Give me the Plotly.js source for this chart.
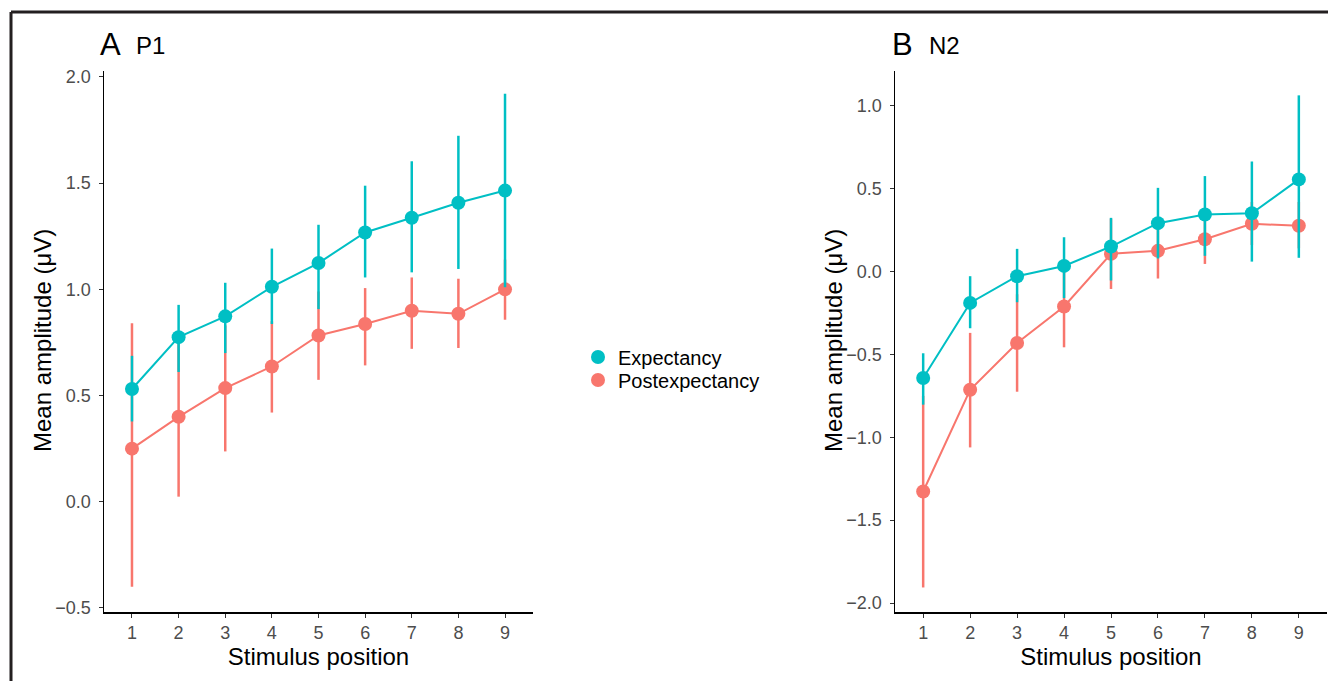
<!DOCTYPE html>
<html>
<head>
<meta charset="utf-8">
<script src="https://cdn.plot.ly/plotly-3.0.1.min.js"></script>
<style>html,body{margin:0;padding:0;background:#fff;}#chart{width:1328px;height:681px;}</style>
</head>
<body>
<div id="chart"></div>
<script>
// Stimulus positions
const positions = [1, 2, 3, 4, 5, 6, 7, 8, 9];

// Panel A: P1 — Expectancy
const p1ExpMean  = [0.531, 0.775, 0.873, 1.012, 1.124, 1.268, 1.337, 1.408, 1.465];
const p1ExpUpper = [0.687, 0.927, 1.031, 1.192, 1.304, 1.488, 1.603, 1.723, 1.921];
const p1ExpLower = [0.378, 0.611, 0.700, 0.837, 0.907, 1.056, 1.080, 1.096, 1.010];
// Panel A: P1 — Postexpectancy
const p1PostMean  = [0.250, 0.400, 0.535, 0.637, 0.783, 0.837, 0.899, 0.885, 1.000];
const p1PostUpper = [0.840, 0.770, 0.830, 0.850, 0.990, 1.006, 1.056, 1.050, 1.140];
const p1PostLower = [-0.400, 0.024, 0.237, 0.420, 0.574, 0.642, 0.720, 0.724, 0.857];

// Panel B: N2 — Expectancy
const n2ExpMean  = [-0.642, -0.189, -0.028, 0.034, 0.151, 0.292, 0.344, 0.352, 0.556];
const n2ExpUpper = [-0.493, -0.028, 0.137, 0.207, 0.324, 0.505, 0.576, 0.664, 1.063];
const n2ExpLower = [-0.803, -0.342, -0.185, -0.160, -0.054, 0.079, 0.095, 0.060, 0.083];
// Panel B: N2 — Postexpectancy
const n2PostMean  = [-1.327, -0.713, -0.431, -0.211, 0.107, 0.125, 0.195, 0.288, 0.276];
const n2PostUpper = [-0.750, -0.370, -0.137, 0.035, 0.319, 0.292, 0.350, 0.420, 0.420];
const n2PostLower = [-1.906, -1.061, -0.725, -0.457, -0.105, -0.042, 0.046, 0.160, 0.140];

// Labels
const seriesNames = ['Expectancy', 'Postexpectancy'];
const panelLetters = ['A', 'B'];
const panelNames = ['P1', 'N2'];
const xTitle = 'Stimulus position';
const yTitle = 'Mean amplitude (μV)';
const p1Ticks = [-0.5, 0, 0.5, 1.0, 1.5, 2.0];
const n2Ticks = [-2.0, -1.5, -1.0, -0.5, 0, 0.5, 1.0];

const TEAL = '#00BFC4', RED = '#F8766D';
const FONT = 'Liberation Sans, Arial, sans-serif';

function diffUp(m, u) { return m.map((v, i) => u[i] - v); }
function diffDn(m, l) { return m.map((v, i) => v - l[i]); }

function makeTraces(mean, up, lo, color, name, xa, ya, showLegend, legendId) {
  return [
    { x: positions, y: mean, type: 'scatter', mode: 'lines', xaxis: xa, yaxis: ya,
      line: { color: color, width: 2 }, showlegend: false, hoverinfo: 'skip' },
    { x: positions, y: mean, type: 'scatter', mode: 'markers', xaxis: xa, yaxis: ya,
      name: name, legendgroup: name, showlegend: showLegend, legend: legendId,
      marker: { color: color, size: 14 },
      error_y: { type: 'data', symmetric: false, array: diffUp(mean, up), arrayminus: diffDn(mean, lo),
                 color: color, thickness: 2.5, width: 0 } }
  ];
}

const data = [].concat(
  makeTraces(p1PostMean, p1PostUpper, p1PostLower, RED, seriesNames[1], 'x', 'y', true, 'legend2'),
  makeTraces(p1ExpMean, p1ExpUpper, p1ExpLower, TEAL, seriesNames[0], 'x', 'y', true, 'legend'),
  makeTraces(n2PostMean, n2PostUpper, n2PostLower, RED, seriesNames[1], 'x2', 'y2', false, 'legend2'),
  makeTraces(n2ExpMean, n2ExpUpper, n2ExpLower, TEAL, seriesNames[0], 'x2', 'y2', false, 'legend')
);

const W = 1328, H = 681;
const yDom = [1 - 612 / H, 1 - 71 / H];

function xAxis(domain, anchor) {
  return {
    domain: domain, anchor: anchor, range: [0.4, 9.6], tickvals: positions,
    showgrid: false, zeroline: false, showline: true, linecolor: '#000', linewidth: 1.5,
    ticks: 'outside', ticklen: 4, tickwidth: 1, tickcolor: '#333',
    tickfont: { family: FONT, size: 18, color: '#4D4D4D' },
    title: { text: xTitle, font: { family: FONT, size: 24, color: '#000' }, standoff: 6 },
    fixedrange: true
  };
}
function yAxis(range, ticks, anchor) {
  return {
    domain: yDom, anchor: anchor, range: range, tickvals: ticks, tickformat: '.1f',
    showgrid: false, zeroline: false, showline: true, linecolor: '#000', linewidth: 1.5,
    ticks: 'outside', ticklen: 4, tickwidth: 1, tickcolor: '#333', ticklabelstandoff: 4,
    tickfont: { family: FONT, size: 18, color: '#4D4D4D' },
    fixedrange: true
  };
}

const legendBase = {
  xanchor: 'left', yanchor: 'middle',
  font: { family: FONT, size: 20, color: '#000' }, bgcolor: 'rgba(0,0,0,0)', itemwidth: 30
};

function yTitleAnn(px) {
  return { text: yTitle, x: px / W, y: 1 - 341 / H, xref: 'paper', yref: 'paper',
    xanchor: 'center', yanchor: 'middle', textangle: -90, showarrow: false,
    font: { family: FONT, size: 24, color: '#000' } };
}

const layout = {
  width: W, height: H,
  margin: { l: 0, r: 0, t: 0, b: 0 },
  paper_bgcolor: '#fff', plot_bgcolor: '#fff',
  font: { family: FONT },
  xaxis: xAxis([104 / W, 533 / W], 'y'),
  yaxis: yAxis([-0.519, 2.028], p1Ticks, 'x'),
  xaxis2: xAxis([895 / W, 1327 / W], 'y2'),
  yaxis2: yAxis([-2.054, 1.21], n2Ticks, 'x2'),
  showlegend: true,
  legend: Object.assign({}, legendBase, { x: 578 / W, y: 1 - 357 / H }),
  legend2: Object.assign({}, legendBase, { x: 578 / W, y: 1 - 380 / H }),
  annotations: [
    yTitleAnn(42), yTitleAnn(833),
    { text: panelLetters[0], x: 98 / W, y: 1 - 44 / H, xref: 'paper', yref: 'paper', xanchor: 'left', yanchor: 'middle',
      showarrow: false, font: { family: FONT, size: 31, color: '#000' } },
    { text: panelNames[0], x: 134 / W, y: 1 - 46 / H, xref: 'paper', yref: 'paper', xanchor: 'left', yanchor: 'middle',
      showarrow: false, font: { family: FONT, size: 24, color: '#000' } },
    { text: panelLetters[1], x: 890 / W, y: 1 - 44 / H, xref: 'paper', yref: 'paper', xanchor: 'left', yanchor: 'middle',
      showarrow: false, font: { family: FONT, size: 31, color: '#000' } },
    { text: panelNames[1], x: 927 / W, y: 1 - 46 / H, xref: 'paper', yref: 'paper', xanchor: 'left', yanchor: 'middle',
      showarrow: false, font: { family: FONT, size: 24, color: '#000' } }
  ],
  shapes: [
    { type: 'line', xref: 'paper', yref: 'paper', x0: 11 / W, x1: 1, y0: 1 - 12 / H, y1: 1 - 12 / H,
      line: { color: '#231F20', width: 3 } },
    { type: 'line', xref: 'paper', yref: 'paper', x0: 11 / W, x1: 11 / W, y0: 0, y1: 1 - 12 / H,
      line: { color: '#231F20', width: 3 } }
  ]
};

Plotly.newPlot('chart', data, layout, { displayModeBar: false, staticPlot: true });
</script>
</body>
</html>
